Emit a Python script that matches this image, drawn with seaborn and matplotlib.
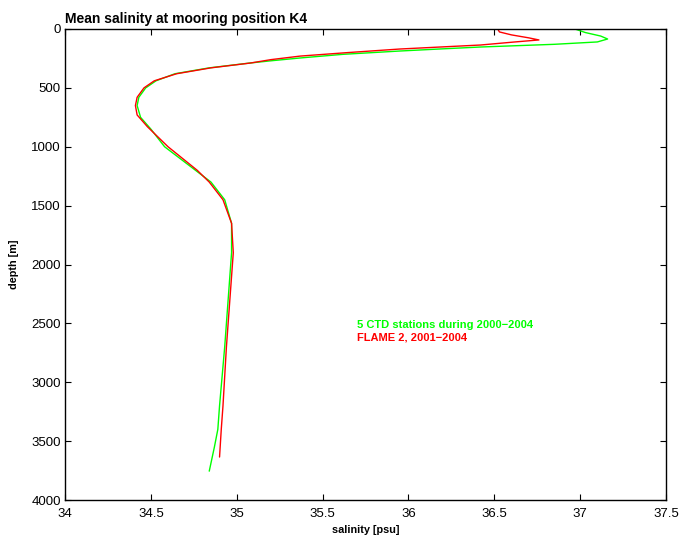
"""Mean salinity profile at mooring position K4: CTD vs FLAME 2."""

import matplotlib

matplotlib.use("Agg")

import matplotlib.pyplot as plt
import pandas as pd
import seaborn as sns

# CTD mean profile (5 stations 2000-2004)
ctd_depth = [0, 10, 30, 60, 85, 110, 130, 153, 170, 187, 215, 246, 270, 290, 330,
             380, 440, 500, 580, 650, 750, 850, 1000, 1200, 1300, 1450, 1650, 1900,
             2300, 2700, 3200, 3400, 3550, 3755]
ctd_sal = [36.97, 36.99, 37.03, 37.12, 37.16, 37.10, 36.85, 36.42, 36.18, 35.95,
           35.62, 35.37, 35.20, 35.07, 34.84, 34.64, 34.53, 34.47, 34.43, 34.42,
           34.44, 34.50, 34.58, 34.76, 34.85, 34.93, 34.97, 34.97, 34.95, 34.93,
           34.90, 34.89, 34.87, 34.84]

# FLAME 2 model mean profile (2001-2004)
flame_depth = [0, 25, 50, 75, 93, 110, 136, 170, 200, 230, 260, 289, 330, 380,
               440, 500, 580, 650, 730, 830, 1000, 1200, 1300, 1450, 1650, 1900,
               2300, 2700, 3200, 3400, 3635]
flame_sal = [36.52, 36.53, 36.60, 36.70, 36.76, 36.62, 36.42, 35.95, 35.65, 35.37,
             35.20, 35.08, 34.85, 34.65, 34.52, 34.46, 34.42, 34.41, 34.42, 34.48,
             34.60, 34.77, 34.84, 34.92, 34.97, 34.98, 34.96, 34.94, 34.92, 34.91,
             34.90]

labels = ["5 CTD stations during 2000\u22122004", "FLAME 2, 2001\u22122004"]
colors = ["#00ff00", "#ff0000"]

x_ticks = [34, 34.5, 35, 35.5, 36, 36.5, 37, 37.5]
y_ticks = [0, 500, 1000, 1500, 2000, 2500, 3000, 3500, 4000]


def main() -> None:
    sns.set_theme(style="ticks")
    plt.rcParams["font.family"] = ["Liberation Sans", "DejaVu Sans"]
    plt.rcParams["text.color"] = "black"
    plt.rcParams["axes.labelcolor"] = "black"

    df = pd.concat([
        pd.DataFrame({"depth": ctd_depth, "salinity": ctd_sal, "source": labels[0]}),
        pd.DataFrame({"depth": flame_depth, "salinity": flame_sal, "source": labels[1]}),
    ], ignore_index=True)

    fig = plt.figure(figsize=(6.8, 5.35), dpi=100)
    ax = fig.add_axes([0.0956, 0.0654, 0.8838, 0.8804])

    sns.lineplot(data=df, x="salinity", y="depth", hue="source", palette=colors,
                 sort=False, estimator=None, linewidth=1.0, legend=False, ax=ax)

    ax.set_xlim(34, 37.5)
    ax.set_ylim(4000, 0)
    ax.set_xticks(x_ticks)
    ax.set_xticklabels([f"{v:g}" for v in x_ticks])
    ax.set_yticks(y_ticks)
    ax.set_yticklabels([str(v) for v in y_ticks])
    ax.tick_params(direction="in", length=4, width=0.8, labelsize=9.5,
                   top=True, right=True, colors="black", labelcolor="black")
    ax.tick_params(axis="x", pad=6)
    ax.tick_params(axis="y", pad=3)
    for s in ax.spines.values():
        s.set_visible(True)
        s.set_color("black")
        s.set_linewidth(1.0)

    ax.set_xlabel("salinity [psu]", fontsize=7.8, fontweight="bold", labelpad=3)
    ax.set_ylabel("depth [m]", fontsize=7.8, fontweight="bold", labelpad=9)
    ax.set_title("Mean salinity at mooring position K4", loc="left",
                 fontsize=10, fontweight="bold", pad=4)

    ax.text(35.7, 2515, labels[0], color=colors[0], fontsize=8, fontweight="bold", va="center")
    ax.text(35.7, 2620, labels[1], color=colors[1], fontsize=8, fontweight="bold", va="center")

    fig.savefig("out.png", dpi=100, facecolor="white")


if __name__ == "__main__":
    main()
